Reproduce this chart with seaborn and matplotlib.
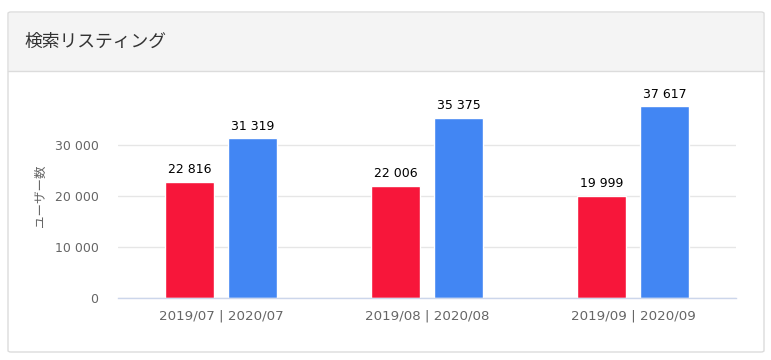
import matplotlib
matplotlib.use("Agg")
import matplotlib.pyplot as plt
import seaborn as sns
import pandas as pd
from matplotlib.patches import FancyBboxPatch, Rectangle
from matplotlib.lines import Line2D

categories = ["2019/07 | 2020/07", "2019/08 | 2020/08", "2019/09 | 2020/09"]
series_names = ["2019", "2020"]
values_2019 = [22816, 22006, 19999]
values_2020 = [31319, 35375, 37617]
y_ticks = [0, 10000, 20000, 30000]
title = "検索リスティング"
y_label = "ユーザー数"
colors = ["#F7163A", "#4286F3"]

df = pd.DataFrame({
    "category": categories * 2,
    "series": [series_names[0]] * 3 + [series_names[1]] * 3,
    "value": values_2019 + values_2020,
})

sns.set_style("white")
plt.rcParams["font.family"] = ["DejaVu Sans", "Noto Sans CJK JP"]
jp = ["Noto Sans CJK JP", "DejaVu Sans"]

W, H = 771, 360
fig = plt.figure(figsize=(W / 100, H / 100), dpi=100)

def fx(px):
    return px / W

def fy(py):
    return 1 - py / H

# card
card = FancyBboxPatch((fx(8), fy(352)), fx(756), (352 - 12) / H,
                      boxstyle="round,pad=0,rounding_size=0.004",
                      transform=fig.transFigure, facecolor="white",
                      edgecolor="#dcdcdc", linewidth=1, zorder=-3)
fig.patches.append(card)
header = Rectangle((fx(9), fy(71)), fx(754), (71 - 13) / H,
                   transform=fig.transFigure, facecolor="#f4f4f4",
                   edgecolor="none", zorder=-2)
fig.patches.append(header)
fig.lines.append(Line2D([fx(8), fx(764)], [fy(71), fy(71)],
                        transform=fig.transFigure, color="#dcdcdc", lw=1,
                        zorder=-1))
fig.text(fx(24), fy(42), title, fontsize=12.8, color="#333333",
         family=jp, va="center", ha="left")

ax = fig.add_axes([fx(118), fy(298), fx(736 - 118), (298 - 94) / H])
ax.set_facecolor("none")
sns.barplot(data=df, x="category", y="value", hue="series",
            palette=colors, width=0.612, gap=0.22, ax=ax,
            legend=False, saturation=1, errorbar=None)

ax.set_ylim(0, 40000)
ax.set_xlim(-0.5, 2.5)
ax.set_yticks(y_ticks)
ax.set_yticklabels([f"{v:,}".replace(",", " ") for v in y_ticks],
                   fontsize=9, color="#666666")
ax.yaxis.grid(True, color="#e6e6e6", linewidth=1)
ax.set_axisbelow(True)
for s in ["top", "right", "left"]:
    ax.spines[s].set_visible(False)
ax.spines["bottom"].set_color("#ccd6eb")
ax.spines["bottom"].set_linewidth(1)

ax.set_xticks(range(len(categories)))
ax.set_xticklabels(categories, fontsize=9.6, color="#666666")
ax.tick_params(axis="x", which="major", length=0, pad=8)
ax.set_xticks([-0.5, 0.5, 1.5, 2.5], minor=True)
ax.tick_params(axis="x", which="minor", length=7.5, color="#ccd6eb", width=1)
ax.tick_params(axis="y", length=0, pad=14)
ax.set_xlabel("")
ax.set_ylabel(y_label, family=jp, fontsize=9, color="#666666")
ax.yaxis.set_label_coords((47 - 118) / 618, 0.5)

for cont in ax.containers:
    for bar in cont:
        h = bar.get_height()
        ax.annotate(f"{int(round(h)):,}".replace(",", " "),
                    (bar.get_x() + bar.get_width() / 2, h),
                    xytext=(0, 4), textcoords="offset points",
                    ha="center", va="bottom", fontsize=9, color="black")

fig.savefig("out.png", dpi=100)
